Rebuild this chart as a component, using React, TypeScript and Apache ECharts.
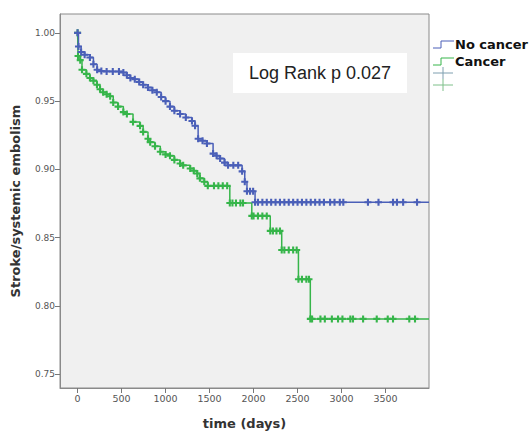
import React, { useEffect, useRef } from "react";
import * as echarts from "echarts";

// Kaplan-Meier estimates: [time (days), survival]
const noCancer: [number, number][] = [
  [0, 1.0], [10, 0.99], [40, 0.986], [80, 0.984], [140, 0.982], [180, 0.977], [222, 0.973],
  [270, 0.972], [330, 0.9717], [400, 0.9717], [470, 0.9717], [520, 0.971], [560, 0.969],
  [600, 0.967], [650, 0.966], [700, 0.964], [745, 0.962], [800, 0.96], [850, 0.958],
  [900, 0.9565], [950, 0.953], [1000, 0.95], [1050, 0.946], [1100, 0.943], [1165, 0.9406],
  [1230, 0.938], [1300, 0.9355], [1335, 0.932], [1370, 0.9225], [1420, 0.921], [1470, 0.919],
  [1540, 0.9116], [1580, 0.91], [1620, 0.908], [1670, 0.905], [1710, 0.903], [1770, 0.903],
  [1825, 0.903], [1870, 0.8986], [1900, 0.891], [1925, 0.884], [1960, 0.884], [1995, 0.884],
  [2017, 0.876], [2050, 0.876], [2100, 0.876], [2150, 0.876], [2200, 0.876], [2250, 0.876],
  [2300, 0.876], [2350, 0.876], [2400, 0.876], [2450, 0.876], [2500, 0.876], [2550, 0.876],
  [2600, 0.876], [2650, 0.876], [2700, 0.876], [2750, 0.876], [2800, 0.876], [2870, 0.876],
  [2920, 0.876], [2980, 0.876], [3020, 0.876], [3300, 0.876], [3420, 0.876], [3585, 0.876],
  [3630, 0.876], [3700, 0.876], [3858, 0.876],
];
const noCancerEnd: [number, number] = [3994, 0.876];

const cancer: [number, number][] = [
  [0, 1.0], [5, 0.983], [30, 0.98], [50, 0.973], [100, 0.97], [140, 0.967], [180, 0.965],
  [220, 0.962], [255, 0.9587], [290, 0.9565], [330, 0.955], [370, 0.9536], [405, 0.949],
  [460, 0.946], [520, 0.942], [560, 0.9406], [630, 0.9348], [710, 0.9319], [745, 0.9275],
  [800, 0.9225], [825, 0.92], [880, 0.917], [940, 0.913], [1000, 0.911], [1050, 0.91],
  [1100, 0.907], [1165, 0.9043], [1200, 0.903], [1280, 0.9007], [1320, 0.899], [1360, 0.897],
  [1390, 0.8935], [1440, 0.891], [1480, 0.888], [1550, 0.888], [1600, 0.888], [1650, 0.888],
  [1700, 0.888], [1730, 0.8754], [1760, 0.8754], [1800, 0.8754], [1850, 0.8754], [1880, 0.8754],
  [1980, 0.866], [2000, 0.866], [2050, 0.866], [2100, 0.866], [2150, 0.866], [2190, 0.855],
  [2220, 0.855], [2260, 0.855], [2300, 0.855], [2320, 0.841], [2350, 0.841], [2400, 0.841],
  [2450, 0.841], [2490, 0.841], [2510, 0.8196], [2550, 0.8196], [2600, 0.8196], [2630, 0.8196],
  [2645, 0.7906], [2665, 0.7906], [2760, 0.7906], [2810, 0.7906], [2890, 0.7906], [2960, 0.7906],
  [3010, 0.7906], [3100, 0.7906], [3130, 0.7906], [3245, 0.7906], [3400, 0.7906], [3525, 0.7906],
  [3585, 0.7906], [3770, 0.7906], [3835, 0.7906],
];
const cancerEnd: [number, number] = [3994, 0.7906];

const xTicks = [0, 500, 1000, 1500, 2000, 2500, 3000, 3500];
const yTicks = [0.75, 0.8, 0.85, 0.9, 0.95, 1.0];
const groups = ["No cancer", "Cancer"];
const pValueText = "Log Rank p 0.027";

const BLUE = "#4a5fb8";
const GREEN = "#36b54a";
const PLUS = "path://M3.5,0H6.5V3.5H10V6.5H6.5V10H3.5V6.5H0V3.5H3.5Z";

export default function App() {
  const ref = useRef<HTMLDivElement>(null);
  useEffect(() => {
    if (!ref.current) return;
    const chart = echarts.init(ref.current, undefined, { renderer: "svg" });
    const mkData = (pts: [number, number][], end: [number, number]) => [
      ...pts.map((p) => ({ value: p })),
      { value: end, symbol: "none" },
    ];
    const fontAxis = "DejaVu Sans";
    chart.setOption({
      animation: false,
      backgroundColor: "#ffffff",
      grid: {
        left: 60,
        top: 14,
        right: 103,
        bottom: 43,
        show: true,
        backgroundColor: "#f0f0f0",
        borderColor: "#8a8a8a",
        borderWidth: 1,
      },
      xAxis: {
        type: "value",
        min: -200,
        max: 3994,
        name: "time (days)",
        nameLocation: "middle",
        nameGap: 29,
        nameTextStyle: { fontFamily: fontAxis, fontWeight: "bold", fontSize: 13, color: "#333" },
        axisLine: { show: true, onZero: false, lineStyle: { color: "#8a8a8a" } },
        axisTick: { show: true, customValues: xTicks, length: 5, lineStyle: { color: "#777" } },
        axisLabel: {
          customValues: xTicks,
          formatter: (v: number) => String(v),
          fontFamily: fontAxis,
          fontSize: 9.5,
          color: "#555",
          margin: 5,
        },
        splitLine: { show: false },
      },
      yAxis: {
        type: "value",
        min: 0.74,
        max: 1.0138,
        name: "Stroke/systemic embolism",
        nameLocation: "middle",
        nameGap: 38,
        nameRotate: 90,
        nameTextStyle: { fontFamily: fontAxis, fontWeight: "bold", fontSize: 13, color: "#333" },
        axisLine: { show: true, onZero: false, lineStyle: { color: "#8a8a8a" } },
        axisTick: { show: true, customValues: yTicks, length: 5, lineStyle: { color: "#777" } },
        axisLabel: {
          customValues: yTicks,
          formatter: (v: number) => v.toFixed(2),
          fontFamily: fontAxis,
          fontSize: 9,
          color: "#555",
          margin: 5,
        },
        splitLine: { show: false },
      },
      series: [
        {
          name: groups[0],
          type: "line",
          step: "end",
          data: mkData(noCancer, noCancerEnd),
          symbol: PLUS,
          symbolSize: [7, 7],
          showAllSymbol: true,
          itemStyle: { color: BLUE },
          lineStyle: { color: BLUE, width: 1.5 },
          z: 3,
        },
        {
          name: groups[1],
          type: "line",
          step: "end",
          data: mkData(cancer, cancerEnd),
          symbol: PLUS,
          symbolSize: [7, 7],
          showAllSymbol: true,
          itemStyle: { color: GREEN },
          lineStyle: { color: GREEN, width: 1.5 },
          z: 2,
        },
      ],
      graphic: [
        {
          type: "rect",
          shape: { x: 233, y: 53, width: 174, height: 40 },
          style: { fill: "#ffffff" },
          z: 10,
        },
        {
          type: "text",
          x: 320,
          y: 73,
          style: {
            text: pValueText,
            fontFamily: "Liberation Sans",
            fontSize: 18,
            fill: "#222",
            align: "center",
            verticalAlign: "middle",
          },
          z: 11,
        },
        {
          type: "polyline",
          shape: { points: [[433, 48], [441, 48], [441, 41], [454, 41]] },
          style: { stroke: BLUE, lineWidth: 1, fill: null },
        },
        {
          type: "text",
          x: 455,
          y: 44,
          style: {
            text: groups[0],
            fontFamily: fontAxis,
            fontWeight: "bold",
            fontSize: 13,
            fill: "#111",
            verticalAlign: "middle",
          },
        },
        {
          type: "polyline",
          shape: { points: [[433, 65], [441, 65], [441, 58], [454, 58]] },
          style: { stroke: GREEN, lineWidth: 1, fill: null },
        },
        {
          type: "text",
          x: 455,
          y: 61,
          style: {
            text: groups[1],
            fontFamily: fontAxis,
            fontWeight: "bold",
            fontSize: 13,
            fill: "#111",
            verticalAlign: "middle",
          },
        },
        { type: "line", shape: { x1: 433, y1: 73, x2: 453, y2: 73 }, style: { stroke: "#7f9fb0", lineWidth: 1 } },
        { type: "line", shape: { x1: 443, y1: 67, x2: 443, y2: 79 }, style: { stroke: "#7f9fb0", lineWidth: 1 } },
        { type: "line", shape: { x1: 433, y1: 85, x2: 453, y2: 85 }, style: { stroke: "#7fc08a", lineWidth: 1 } },
        { type: "line", shape: { x1: 443, y1: 79, x2: 443, y2: 91 }, style: { stroke: "#7fc08a", lineWidth: 1 } },
      ],
    });
    return () => chart.dispose();
  }, []);
  return (
    <div
      ref={ref}
      style={{ position: "fixed", left: 0, top: 0, width: 532, height: 435 }}
    />
  );
}
